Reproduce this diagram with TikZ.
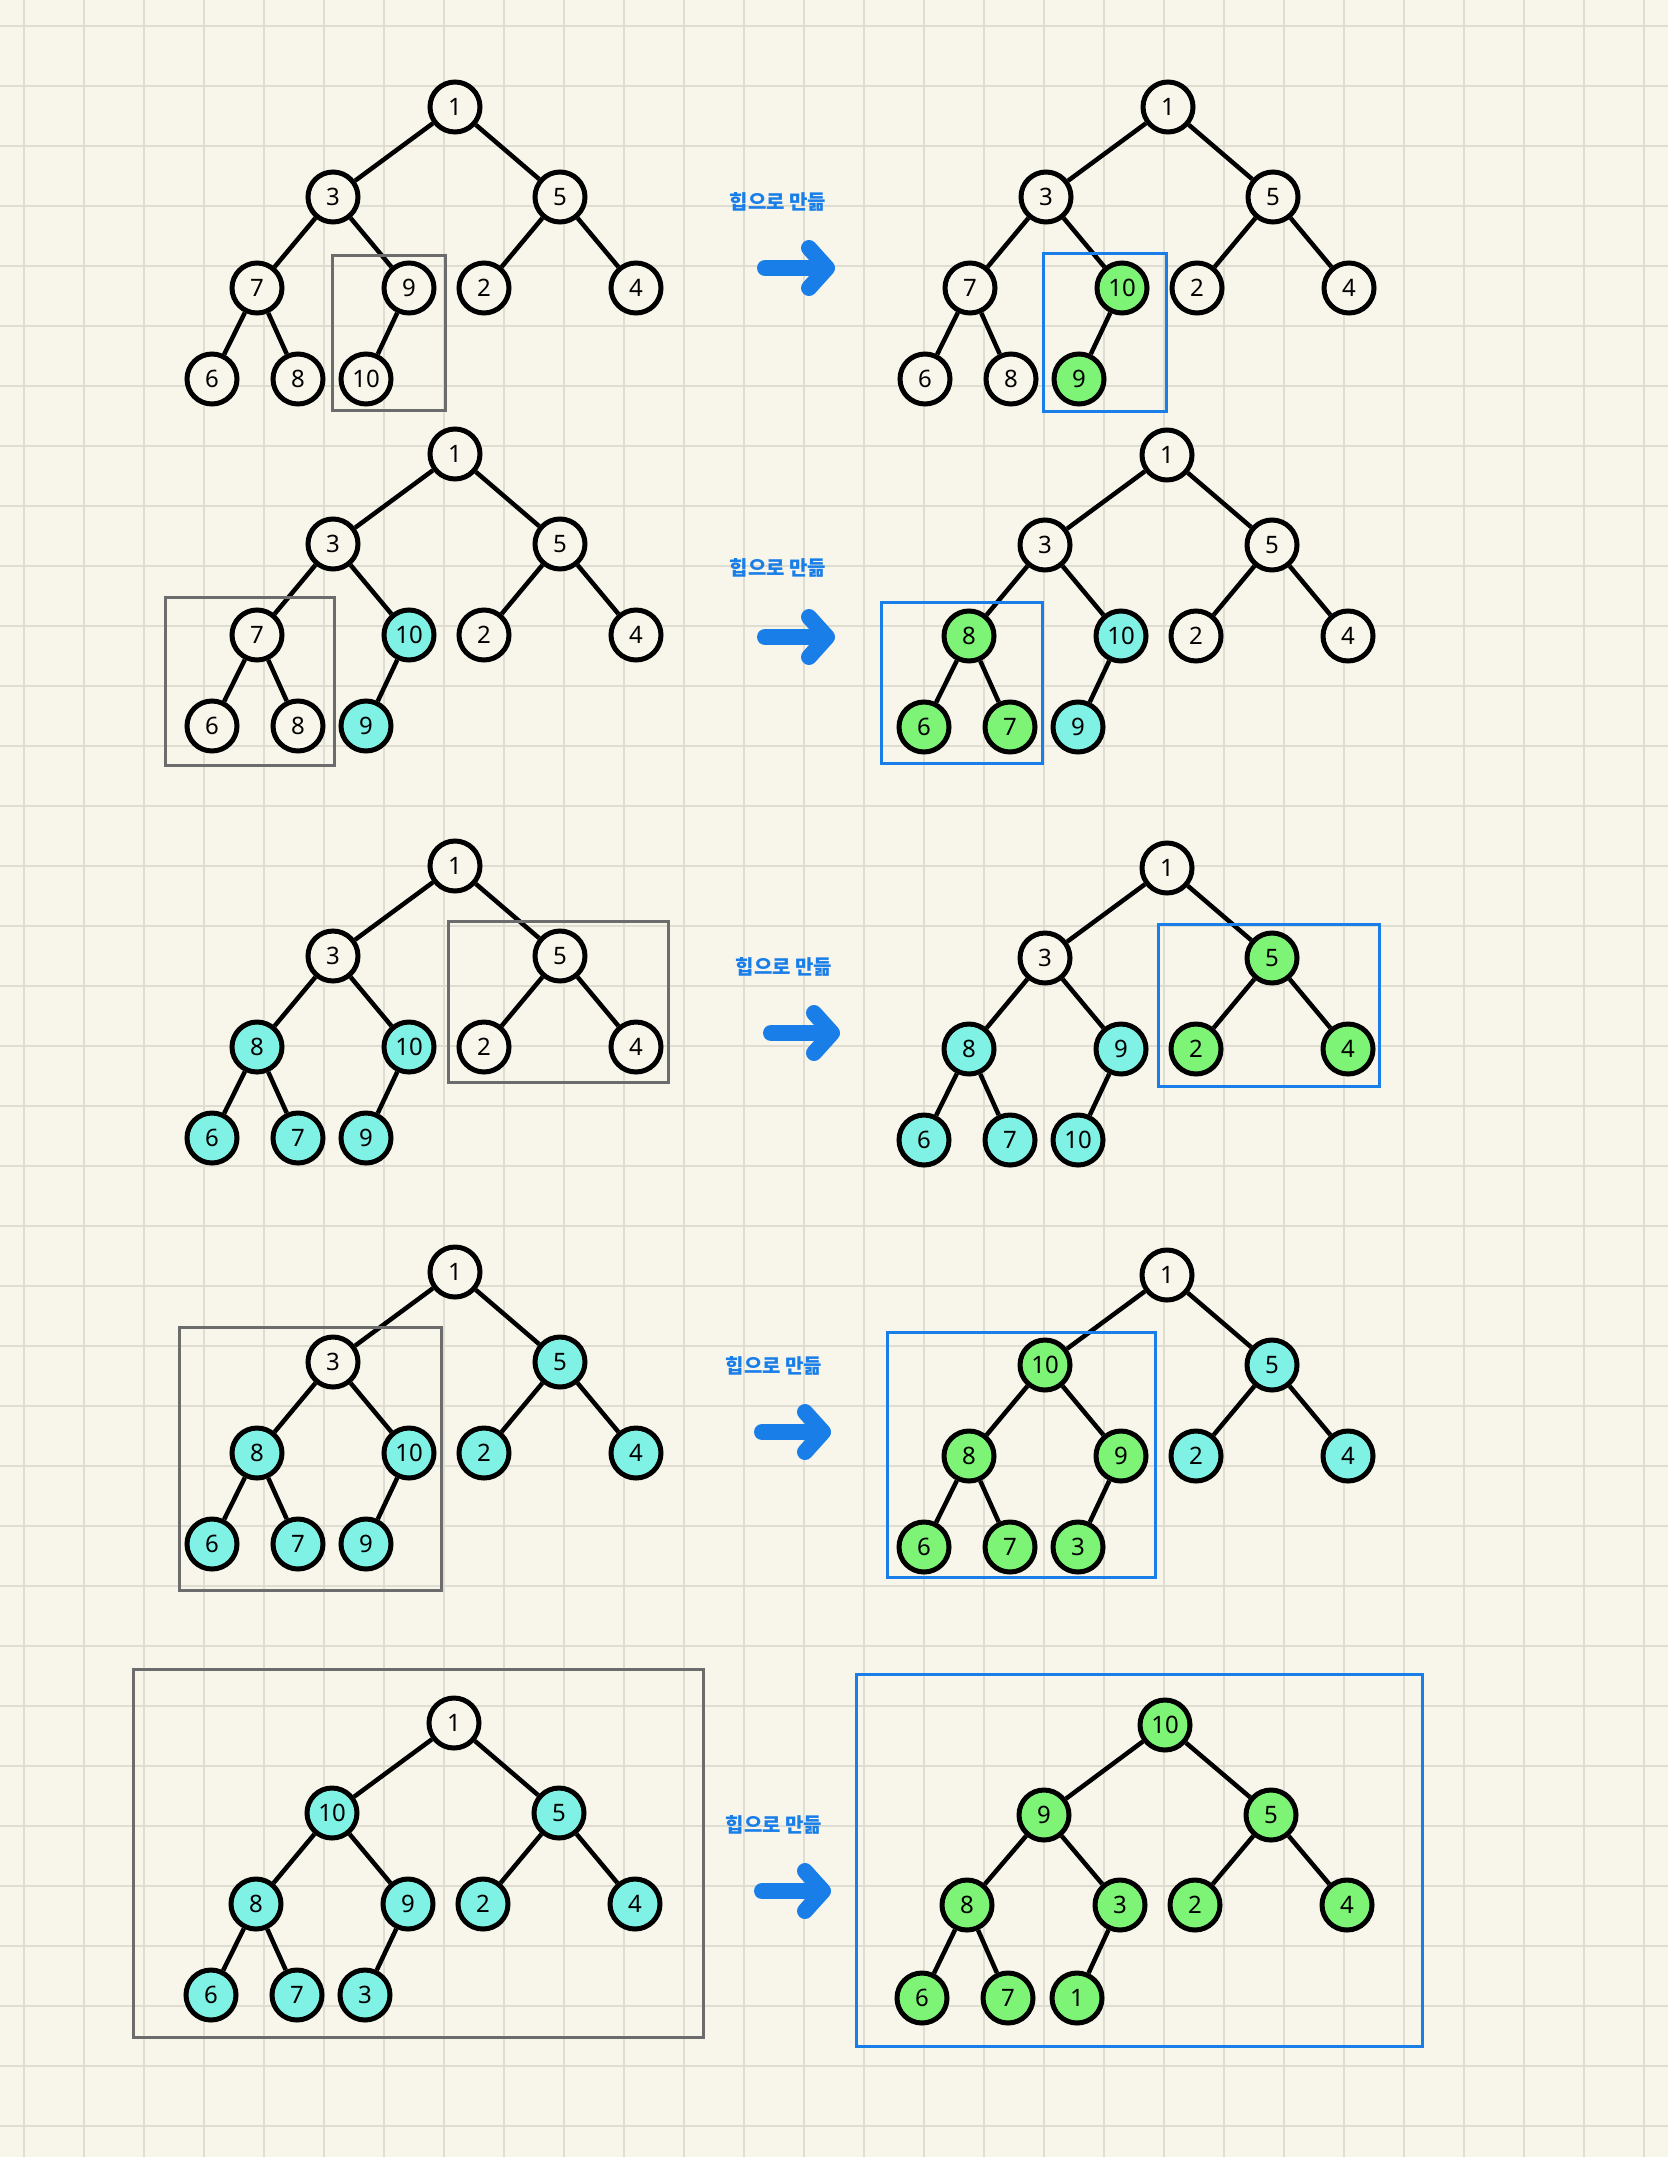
\documentclass[tikz,border=0pt]{standalone}
\usepackage{fontspec}
\setmainfont{Noto Sans}
\newfontfamily\krfont{Noto Sans CJK KR}
\usetikzlibrary{arrows.meta}
\definecolor{paper}{HTML}{F8F6EA}
\definecolor{gridgray}{HTML}{DFDCD1}
\definecolor{boxgray}{HTML}{6C6C6C}
\definecolor{markblue}{HTML}{1A7EE8}
\definecolor{heapcyan}{HTML}{7FF2E5}
\definecolor{heapgreen}{HTML}{7DF475}

\begin{document}
\begin{tikzpicture}[x=1pt,y=1pt]
	\tikzstyle{every node}+=[inner sep=0pt]
	\tikzstyle{hkey}=[circle, draw=black, line width=5pt, minimum size=50pt, font=\fontsize{24}{24}\selectfont]
	\tikzstyle{wkey}=[hkey, fill=paper]
	\tikzstyle{ckey}=[hkey, fill=heapcyan]
	\tikzstyle{gkey}=[hkey, fill=heapgreen]
	\tikzstyle{branch}=[black, line width=4.5pt]
	\tikzstyle{oldbox}=[draw=boxgray, line width=3pt]
	\tikzstyle{newbox}=[draw=markblue, line width=3pt]
	\tikzstyle{heaplabel}=[text=markblue, font=\krfont\bfseries\fontsize{20}{20}\selectfont]
	\tikzstyle{bigarrow}=[draw=markblue, line width=16pt, line cap=round, line join=round, -{Straight Barb[length=18pt, width=40pt, round]}]
	\useasboundingbox (0,0) rectangle (1668,-2157);
	\fill [paper] (0,0) rectangle (1668,-2157);
	\draw [gridgray, line width=2pt, xshift=24pt, yshift=-26pt] (-24,-2131) grid[step=60] (1644,26);

	\begin{scope}[shift={(455,-107)}]
		\node [wkey] (A1) at (0,0) {1};
		\node [wkey] (A2) at (-122,-90) {3};
		\node [wkey] (A3) at (105,-90) {5};
		\node [wkey] (A4) at (-198,-181) {7};
		\node [wkey] (A5) at (-46,-181) {9};
		\node [wkey] (A6) at (29,-181) {2};
		\node [wkey] (A7) at (181,-181) {4};
		\node [wkey] (A8) at (-243,-272) {6};
		\node [wkey] (A9) at (-157,-272) {8};
		\node [wkey] (A10) at (-89,-272) {10};
	\end{scope}
	\draw [branch] (A1) -- (A2) (A1) -- (A3) (A2) -- (A4) (A2) -- (A5) (A3) -- (A6) (A3) -- (A7) (A4) -- (A8) (A4) -- (A9) (A5) -- (A10);
	\draw [oldbox] (332,-255) rectangle (445,-410);

	\begin{scope}[shift={(1168,-107)}]
		\node [wkey] (B1) at (0,0) {1};
		\node [wkey] (B2) at (-122,-90) {3};
		\node [wkey] (B3) at (105,-90) {5};
		\node [wkey] (B4) at (-198,-181) {7};
		\node [gkey] (B5) at (-46,-181) {10};
		\node [wkey] (B6) at (29,-181) {2};
		\node [wkey] (B7) at (181,-181) {4};
		\node [wkey] (B8) at (-243,-272) {6};
		\node [wkey] (B9) at (-157,-272) {8};
		\node [gkey] (B10) at (-89,-272) {9};
	\end{scope}
	\draw [branch] (B1) -- (B2) (B1) -- (B3) (B2) -- (B4) (B2) -- (B5) (B3) -- (B6) (B3) -- (B7) (B4) -- (B8) (B4) -- (B9) (B5) -- (B10);
	\draw [newbox] (1043,-253) rectangle (1166,-411);

	\begin{scope}[shift={(455,-454)}]
		\node [wkey] (C1) at (0,0) {1};
		\node [wkey] (C2) at (-122,-90) {3};
		\node [wkey] (C3) at (105,-90) {5};
		\node [wkey] (C4) at (-198,-181) {7};
		\node [ckey] (C5) at (-46,-181) {10};
		\node [wkey] (C6) at (29,-181) {2};
		\node [wkey] (C7) at (181,-181) {4};
		\node [wkey] (C8) at (-243,-272) {6};
		\node [wkey] (C9) at (-157,-272) {8};
		\node [ckey] (C10) at (-89,-272) {9};
	\end{scope}
	\draw [branch] (C1) -- (C2) (C1) -- (C3) (C2) -- (C4) (C2) -- (C5) (C3) -- (C6) (C3) -- (C7) (C4) -- (C8) (C4) -- (C9) (C5) -- (C10);
	\draw [oldbox] (165,-597) rectangle (334,-765);

	\begin{scope}[shift={(1167,-455)}]
		\node [wkey] (D1) at (0,0) {1};
		\node [wkey] (D2) at (-122,-90) {3};
		\node [wkey] (D3) at (105,-90) {5};
		\node [gkey] (D4) at (-198,-181) {8};
		\node [ckey] (D5) at (-46,-181) {10};
		\node [wkey] (D6) at (29,-181) {2};
		\node [wkey] (D7) at (181,-181) {4};
		\node [gkey] (D8) at (-243,-272) {6};
		\node [gkey] (D9) at (-157,-272) {7};
		\node [ckey] (D10) at (-89,-272) {9};
	\end{scope}
	\draw [branch] (D1) -- (D2) (D1) -- (D3) (D2) -- (D4) (D2) -- (D5) (D3) -- (D6) (D3) -- (D7) (D4) -- (D8) (D4) -- (D9) (D5) -- (D10);
	\draw [newbox] (881,-602) rectangle (1042,-763);

	\begin{scope}[shift={(455,-866)}]
		\node [wkey] (E1) at (0,0) {1};
		\node [wkey] (E2) at (-122,-90) {3};
		\node [wkey] (E3) at (105,-90) {5};
		\node [ckey] (E4) at (-198,-181) {8};
		\node [ckey] (E5) at (-46,-181) {10};
		\node [wkey] (E6) at (29,-181) {2};
		\node [wkey] (E7) at (181,-181) {4};
		\node [ckey] (E8) at (-243,-272) {6};
		\node [ckey] (E9) at (-157,-272) {7};
		\node [ckey] (E10) at (-89,-272) {9};
	\end{scope}
	\draw [branch] (E1) -- (E2) (E1) -- (E3) (E2) -- (E4) (E2) -- (E5) (E3) -- (E6) (E3) -- (E7) (E4) -- (E8) (E4) -- (E9) (E5) -- (E10);
	\draw [oldbox] (448,-921) rectangle (668,-1082);

	\begin{scope}[shift={(1167,-868)}]
		\node [wkey] (F1) at (0,0) {1};
		\node [wkey] (F2) at (-122,-90) {3};
		\node [gkey] (F3) at (105,-90) {5};
		\node [ckey] (F4) at (-198,-181) {8};
		\node [ckey] (F5) at (-46,-181) {9};
		\node [gkey] (F6) at (29,-181) {2};
		\node [gkey] (F7) at (181,-181) {4};
		\node [ckey] (F8) at (-243,-272) {6};
		\node [ckey] (F9) at (-157,-272) {7};
		\node [ckey] (F10) at (-89,-272) {10};
	\end{scope}
	\draw [branch] (F1) -- (F2) (F1) -- (F3) (F2) -- (F4) (F2) -- (F5) (F3) -- (F6) (F3) -- (F7) (F4) -- (F8) (F4) -- (F9) (F5) -- (F10);
	\draw [newbox] (1158,-924) rectangle (1379,-1086);

	\begin{scope}[shift={(455,-1272)}]
		\node [wkey] (G1) at (0,0) {1};
		\node [wkey] (G2) at (-122,-90) {3};
		\node [ckey] (G3) at (105,-90) {5};
		\node [ckey] (G4) at (-198,-181) {8};
		\node [ckey] (G5) at (-46,-181) {10};
		\node [ckey] (G6) at (29,-181) {2};
		\node [ckey] (G7) at (181,-181) {4};
		\node [ckey] (G8) at (-243,-272) {6};
		\node [ckey] (G9) at (-157,-272) {7};
		\node [ckey] (G10) at (-89,-272) {9};
	\end{scope}
	\draw [branch] (G1) -- (G2) (G1) -- (G3) (G2) -- (G4) (G2) -- (G5) (G3) -- (G6) (G3) -- (G7) (G4) -- (G8) (G4) -- (G9) (G5) -- (G10);
	\draw [oldbox] (179,-1327) rectangle (441,-1590);

	\begin{scope}[shift={(1167,-1275)}]
		\node [wkey] (H1) at (0,0) {1};
		\node [gkey] (H2) at (-122,-90) {10};
		\node [ckey] (H3) at (105,-90) {5};
		\node [gkey] (H4) at (-198,-181) {8};
		\node [gkey] (H5) at (-46,-181) {9};
		\node [ckey] (H6) at (29,-181) {2};
		\node [ckey] (H7) at (181,-181) {4};
		\node [gkey] (H8) at (-243,-272) {6};
		\node [gkey] (H9) at (-157,-272) {7};
		\node [gkey] (H10) at (-89,-272) {3};
	\end{scope}
	\draw [branch] (H1) -- (H2) (H1) -- (H3) (H2) -- (H4) (H2) -- (H5) (H3) -- (H6) (H3) -- (H7) (H4) -- (H8) (H4) -- (H9) (H5) -- (H10);
	\draw [newbox] (887,-1332) rectangle (1155,-1577);

	\begin{scope}[shift={(454,-1723)}]
		\node [wkey] (I1) at (0,0) {1};
		\node [ckey] (I2) at (-122,-90) {10};
		\node [ckey] (I3) at (105,-90) {5};
		\node [ckey] (I4) at (-198,-181) {8};
		\node [ckey] (I5) at (-46,-181) {9};
		\node [ckey] (I6) at (29,-181) {2};
		\node [ckey] (I7) at (181,-181) {4};
		\node [ckey] (I8) at (-243,-272) {6};
		\node [ckey] (I9) at (-157,-272) {7};
		\node [ckey] (I10) at (-89,-272) {3};
	\end{scope}
	\draw [branch] (I1) -- (I2) (I1) -- (I3) (I2) -- (I4) (I2) -- (I5) (I3) -- (I6) (I3) -- (I7) (I4) -- (I8) (I4) -- (I9) (I5) -- (I10);
	\draw [oldbox] (133,-1669) rectangle (703,-2037);

	\begin{scope}[shift={(1165,-1725)}]
		\node [gkey] (J1) at (0,0) {10};
		\node [gkey] (J2) at (-121,-90) {9};
		\node [gkey] (J3) at (106,-90) {5};
		\node [gkey] (J4) at (-198,-180) {8};
		\node [gkey] (J5) at (-45,-180) {3};
		\node [gkey] (J6) at (30,-180) {2};
		\node [gkey] (J7) at (182,-180) {4};
		\node [gkey] (J8) at (-243,-273) {6};
		\node [gkey] (J9) at (-157,-273) {7};
		\node [gkey] (J10) at (-88,-273) {1};
	\end{scope}
	\draw [branch] (J1) -- (J2) (J1) -- (J3) (J2) -- (J4) (J2) -- (J5) (J3) -- (J6) (J3) -- (J7) (J4) -- (J8) (J4) -- (J9) (J5) -- (J10);
	\draw [newbox] (856,-1674) rectangle (1422,-2046);

	\node [heaplabel] (t1) at (778,-202) {힙으로 만듦};
	\coordinate (s1) at (765,-268);
	\coordinate (e1) at (835,-268);
	\draw [bigarrow] (s1) -- (e1);
	\node [heaplabel] (t2) at (778,-568) {힙으로 만듦};
	\coordinate (s2) at (765,-637);
	\coordinate (e2) at (835,-637);
	\draw [bigarrow] (s2) -- (e2);
	\node [heaplabel] (t3) at (784,-967) {힙으로 만듦};
	\coordinate (s3) at (771,-1033);
	\coordinate (e3) at (840,-1033);
	\draw [bigarrow] (s3) -- (e3);
	\node [heaplabel] (t4) at (774,-1366) {힙으로 만듦};
	\coordinate (s4) at (762,-1432);
	\coordinate (e4) at (831,-1432);
	\draw [bigarrow] (s4) -- (e4);
	\node [heaplabel] (t5) at (774,-1825) {힙으로 만듦};
	\coordinate (s5) at (762,-1891);
	\coordinate (e5) at (831,-1891);
	\draw [bigarrow] (s5) -- (e5);
\end{tikzpicture}
\end{document}
